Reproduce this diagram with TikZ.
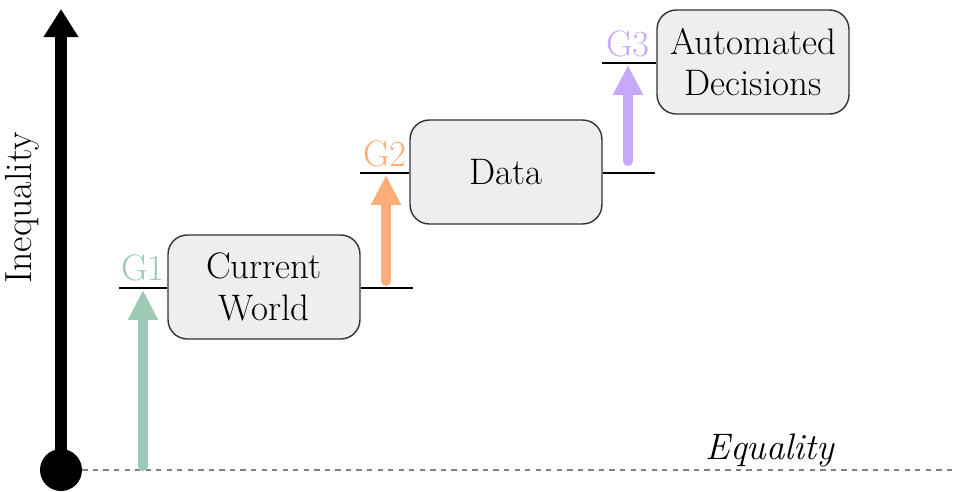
\documentclass[tikz,border=0pt]{standalone}
\usetikzlibrary{arrows.meta}
\definecolor{gone}{RGB}{158,201,180}
\definecolor{gtwo}{RGB}{253,174,120}
\definecolor{gthree}{RGB}{200,168,250}
\definecolor{boxfill}{RGB}{238,238,238}
\definecolor{boxline}{RGB}{50,50,50}
\begin{document}
\begin{tikzpicture}[x=0.02cm,y=-0.02cm,
  box/.style={draw=boxline, fill=boxfill, rounded corners=11pt, line width=0.8pt,
    minimum width=3.84cm, minimum height=2.08cm, inner sep=0pt, align=center,
    font=\fontsize{21}{23.5}\selectfont},
  glabel/.style={font=\fontsize{21}{25}\selectfont, inner sep=0pt},
  hline/.style={line width=1.1pt, black},
  garrow/.style={line width=5.7pt, line cap=round, -{Triangle[width=16pt,length=17pt]}},
]
\useasboundingbox (0,0) rectangle (953,491);
% axis
\coordinate (eqend) at (953,470);
\node[circle, fill=black, minimum size=0.84cm, inner sep=0pt] (dot) at (61,470) {};
\coordinate (top) at (61,9);
\draw[gray, line width=0.6pt, dash pattern=on 3pt off 3pt] (dot.east) -- (eqend);
\draw[line width=6.8pt, -{Triangle[width=18.8pt,length=16pt]}] (dot.center) -- (top);
\node[rotate=90, font=\fontsize{21.5}{25}\selectfont] (ineq) at (22,208) {Inequality};
\node[font=\fontsize{21}{25}\selectfont\itshape] (eq) at (770,450) {Equality};
% boxes
\node[box] (cw) at (264,287) {Current\\World};
\node[box] (data) at (506,172) {Data};
\node[box] (ad) at (753,62) {Automated\\Decisions};
% level lines
\coordinate (l1) at (119,288);
\coordinate (r1) at (413,288);
\coordinate (l2) at (360,173);
\coordinate (r2) at (655,173);
\coordinate (l3) at (602,63);
\draw[hline] (l1) -- (l1 -| cw.west);
\draw[hline] (r1 -| cw.east) -- (r1);
\draw[hline] (l2) -- (l2 -| data.west);
\draw[hline] (r2 -| data.east) -- (r2);
\draw[hline] (l3) -- (l3 -| ad.west);
% gap arrows
\coordinate (a1s) at (143,466);
\coordinate (a1e) at (143,290);
\coordinate (a2s) at (386,281);
\coordinate (a2e) at (386,175);
\coordinate (a3s) at (628,161);
\coordinate (a3e) at (628,65);
\draw[garrow, gone] (a1s) -- (a1e);
\draw[garrow, gtwo] (a2s) -- (a2e);
\draw[garrow, gthree] (a3s) -- (a3e);
\node[glabel, text=gone] (g1) at (143,268) {G1};
\node[glabel, text=gtwo] (g2) at (385,154) {G2};
\node[glabel, text=gthree] (g3) at (628,44) {G3};
\end{tikzpicture}
\end{document}
